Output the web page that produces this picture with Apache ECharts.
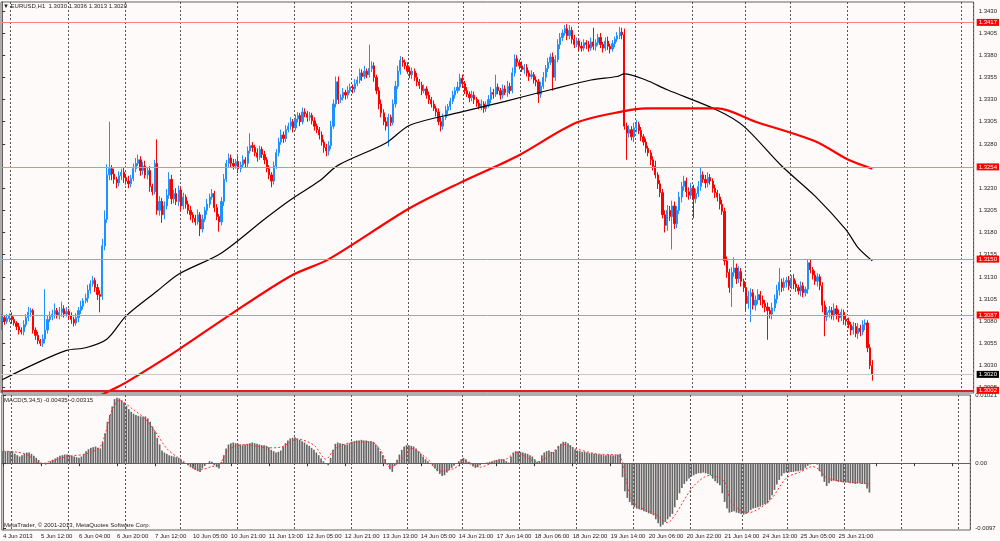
<!DOCTYPE html>
<html>
<head>
<meta charset="utf-8">
<title>EURUSD,H1</title>
<script src="https://cdn.jsdelivr.net/npm/echarts@6/dist/echarts.min.js"></script>
<style>
html, body { margin: 0; padding: 0; background: #fffafa; }
#chart { width: 1000px; height: 541px; }
</style>
</head>
<body>
<div id="chart"></div>
<script>
// prices are kept in pips above 1.3000, macd in units of 0.0001
const BASE = 1.3
const firstOpen = 80

const closePips = [
  84,80,83,86,82,78,74,70,68,76,
  84,90,92,70,64,58,55,60,70,82,
  85,88,92,86,90,94,88,91,86,82,
  78,84,92,97,103,106,115,122,126,118,
  110,108,165,195,245,252,246,240,236,244,
  248,242,238,235,241,252,258,262,250,255,
  245,250,232,226,258,205,215,200,210,222,
  240,218,224,215,228,210,220,212,205,200,
  196,192,200,184,195,205,212,220,224,208,
  198,192,215,240,258,264,258,255,260,252,
  256,262,258,272,278,276,270,265,274,268,
  262,252,245,238,255,270,282,290,286,296,
  300,305,298,308,312,305,316,314,310,312,
  306,300,296,290,282,276,272,278,300,325,
  350,330,332,338,335,340,344,342,348,352,
  360,356,362,358,365,368,355,340,325,315,
  305,300,310,304,325,345,362,374,372,368,
  362,358,362,355,350,346,340,342,335,330,
  325,320,316,305,300,310,318,322,328,335,
  340,344,354,348,340,336,332,335,330,326,
  322,325,320,324,330,338,336,344,340,335,
  342,338,345,340,360,376,372,368,364,366,
  360,356,358,352,350,336,345,355,365,372,
  378,355,375,392,400,405,410,402,408,398,
  392,396,390,388,394,392,388,395,390,394,
  400,392,388,396,390,387,393,398,402,406,
  403,300,292,296,288,298,302,295,288,282,
  275,270,262,255,245,235,225,200,188,205,
  198,210,190,205,220,232,238,226,222,230,
  218,224,232,245,240,236,242,238,230,225,
  220,212,204,148,135,118,135,140,128,136,
  125,118,100,108,112,98,104,110,104,100,
  96,92,88,95,105,115,124,118,124,126,
  120,128,122,118,114,120,112,116,146,138,
  132,125,130,120,98,85,90,92,86,94,
  88,84,90,82,80,76,70,74,66,72,
  68,76,78,50,30,20
]

// visible wick length above / below the body, pips
const wickUp = [
  4,3,5,3,4,3,2,4,3,5,
  4,6,3,2,3,4,2,5,46,4,
  6,5,8,3,6,8,4,5,3,4,
  3,5,4,6,3,5,6,4,5,3,
  4,5,8,10,12,53,4,6,3,5,
  4,5,3,6,4,6,6,6,4,5,
  6,4,5,3,4,27,6,4,5,7,
  8,5,4,6,5,4,5,3,4,5,
  3,4,6,3,5,4,6,4,5,3,
  4,3,5,6,4,5,4,5,3,6,
  4,5,3,5,14,4,3,5,4,3,
  4,3,4,3,5,4,5,6,4,5,
  4,5,3,5,4,3,5,4,3,4,
  3,4,3,3,4,3,4,5,6,5,
  6,6,4,5,3,5,4,3,5,4,
  5,4,6,3,27,5,4,3,4,5,
  4,5,4,3,5,6,6,5,4,3,
  4,5,4,3,5,3,4,5,3,4,
  3,4,3,4,5,4,5,3,4,5,
  4,6,5,4,3,4,3,5,4,3,
  4,5,3,4,5,6,4,14,4,3,
  5,4,6,4,6,5,4,3,5,4,
  4,3,5,3,4,3,5,6,4,5,
  4,5,5,6,5,4,4,5,6,4,
  5,4,3,5,4,3,4,5,16,4,
  4,5,3,4,5,3,4,3,4,6,
  5,7,4,5,4,6,5,3,4,3,
  4,3,3,4,6,3,4,4,5,6,
  5,6,5,5,6,5,6,4,5,6,
  4,5,6,8,4,5,6,4,3,4,
  3,4,5,4,5,4,6,12,5,6,
  4,3,4,6,5,4,5,6,4,5,
  4,5,4,6,5,6,16,4,5,4,
  5,4,5,4,3,5,4,3,4,4,
  3,5,4,3,4,5,6,5,4,6,
  4,5,4,3,5,4,3,5,4,6,
  4,5,4,3,4,6
]
const wickDown = [
  10,4,3,4,5,3,4,5,3,4,
  3,4,5,4,5,4,3,4,5,4,
  3,4,5,3,4,5,4,3,4,5,
  4,3,5,4,4,3,5,4,3,5,
  6,18,4,5,4,6,7,5,6,4,
  5,6,4,5,4,3,4,3,6,5,
  4,5,6,4,3,5,6,9,5,4,
  4,6,5,4,5,6,4,5,4,6,
  5,4,3,8,4,3,5,4,3,5,
  4,11,4,5,3,4,5,4,3,5,
  4,3,5,4,3,5,4,5,3,4,
  5,4,5,7,4,3,4,3,5,4,
  3,4,5,3,4,5,3,4,5,4,
  4,5,4,5,4,6,6,5,4,3,
  4,5,4,3,5,4,3,5,4,3,
  4,5,3,4,3,4,5,4,6,5,
  4,5,23,4,3,4,3,4,5,4,
  3,4,5,4,5,4,5,3,4,5,
  4,3,5,4,6,4,3,5,4,3,
  4,3,4,5,4,3,5,4,5,4,
  3,4,5,4,3,4,5,3,4,5,
  4,3,5,4,3,4,5,4,3,5,
  4,5,3,4,5,10,4,3,5,4,
  3,15,4,3,5,4,3,5,4,5,
  4,3,5,4,3,5,4,3,4,5,
  3,4,5,3,4,5,3,4,3,4,
  5,4,30,5,4,6,5,4,5,4,
  5,4,6,5,4,6,5,4,8,6,
  5,37,6,5,4,6,5,6,5,4,
  22,5,4,5,4,6,5,4,5,6,
  5,6,4,5,6,6,22,5,6,5,
  6,5,8,6,29,5,6,5,6,5,
  6,33,5,6,4,5,6,5,4,6,
  5,4,6,5,4,6,5,4,5,4,
  5,4,6,5,8,22,5,6,4,5,
  6,5,4,6,5,4,6,5,4,6,
  5,4,6,5,4,7
]

// moving averages read at sample bars
const blackMaBars = [0,13,27,35,44,52,65,74,92,110,121,133,141,161,171,191,211,230,247,258,261,270,279,300,311,327,341,354,359,365]
const blackMaPips = [14,31,47,50,60,86,114,133,157,195,217,238,256,281,301,315,328,341,352,356,359,352,341,318,300,255,221,183,163,148]
const redMaBars = [38,44,52,74,96,121,137,170,192,216,241,261,270,300,316,341,355,365]
const redMaPips = [-8,0,11,48,88,131,150,206,236,266,304,317,320,320,305,283,262,252]

const macdHist = [
  18,18,18,18,17,14,12,10,12,14,
  16,16,14,11,8,5,1,-1,-2,0,
  3,5,7,9,11,12,13,13,12,11,
  10,9,8,10,14,18,21,23,24,25,
  23,22,31,45,62,72,85,96,98,97,
  94,91,86,81,77,74,72,71,70,70,
  70,67,62,55,48,38,28,19,16,14,
  12,11,10,9,8,5,2,-1,-3,-6,
  -8,-10,-12,-13,-8,-4,0,3,2,-3,
  -6,-8,2,12,22,28,30,31,30,29,
  28,27,28,29,30,31,30,29,28,27,
  27,26,24,20,18,16,17,19,25,30,
  34,37,38,39,37,35,33,31,28,26,
  23,20,16,12,7,3,-1,-3,8,20,
  29,31,30,29,28,28,30,32,33,34,
  34,35,34,34,33,33,32,28,24,18,
  12,6,-2,-9,-13,-4,5,13,20,25,
  27,27,26,25,22,18,14,10,6,3,
  0,-4,-8,-12,-16,-19,-18,-14,-10,-7,
  -4,-1,3,6,8,6,2,-2,-5,-7,
  -6,-3,-1,0,1,2,3,4,5,6,
  6,5,3,1,10,16,18,18,17,16,
  15,14,12,10,6,2,3,12,16,18,
  19,17,17,20,26,29,32,32,30,27,
  24,21,19,18,17,17,16,15,15,14,
  14,13,13,12,12,13,12,12,12,13,
  14,-21,-42,-52,-58,-63,-66,-68,-69,-70,
  -72,-73,-75,-76,-78,-84,-90,-95,-92,-88,
  -84,-80,-76,-66,-55,-45,-37,-31,-27,-23,
  -20,-18,-16,-15,-15,-14,-15,-16,-18,-23,
  -27,-30,-33,-45,-58,-68,-74,-73,-72,-74,
  -75,-76,-77,-76,-73,-70,-68,-67,-66,-65,
  -63,-61,-60,-55,-48,-40,-32,-25,-19,-15,
  -14,-14,-13,-13,-12,-12,-11,-11,-7,-4,
  -2,-1,-1,-2,-12,-20,-28,-34,-30,-27,
  -26,-27,-28,-28,-29,-29,-29,-30,-30,-31,
  -30,-30,-31,-31,-38,-44
]
const signalBars = [0,5,10,16,20,27,35,41,46,49,55,60,64,69,74,83,88,91,95,102,112,117,124,131,136,140,147,155,159,163,167,172,179,184,190,195,201,208,212,216,225,230,236,241,250,259,261,263,266,275,280,283,291,298,304,307,314,323,330,336,341,344,347,356,365]
const signalVals = [18,17,13,-1,3,10,14,25,80,94,80,66,48,22,8,-10,-5,-3,20,28,23,24,36,27,6,22,31,32,20,-6,2,22,6,-12,-8,3,-6,4,6,16,2,11,28,22,14,12,2,-33,-60,-77,-89,-78,-34,-18,-28,-60,-74,-56,-22,-13,-5,-10,-22,-28,-31]

const timeLabels = ["4 Jun 2013","5 Jun 12:00","6 Jun 04:00","6 Jun 20:00","7 Jun 12:00","10 Jun 05:00","10 Jun 21:00","11 Jun 13:00","12 Jun 05:00","12 Jun 21:00","13 Jun 13:00","14 Jun 05:00","14 Jun 21:00","17 Jun 14:00","18 Jun 06:00","18 Jun 22:00","19 Jun 14:00","20 Jun 06:00","20 Jun 22:00","21 Jun 14:00","24 Jun 13:00","25 Jun 05:00","25 Jun 21:00"]
const labelStep = 16
const daySeparators = [4,28,52,75,99,123,147,171,194,218,242,266,290,312,331,355,379,403]
const totalSlots = 408

const priceTicks = [1.3430,1.3405,1.3380,1.3355,1.3330,1.3305,1.3280,1.3230,1.3205,1.3180,1.3155,1.3130,1.3105,1.3080,1.3055,1.3030,1.3005]
const levels = [1.3417,1.3254,1.3150,1.3087]
const floorLevel = 1.3002
const bid = 1.3020
const macdTicks = [0.01021,0,-0.0097]

const toPrice = p => +(BASE + p / 10000).toFixed(5)

function renderChart() {
  const chart = echarts.init(document.querySelector("#chart"))
  const categories = Array.from({ length: totalSlots }, (_, i) => String(i))
  const sepSet = new Set(daySeparators)

  const candles = closePips.map((c, i) => {
    const o = i === 0 ? firstOpen : closePips[i - 1]
    const hi = Math.max(o, c) + wickUp[i]
    const lo = Math.min(o, c) - wickDown[i]
    return [toPrice(o), toPrice(c), toPrice(lo), toPrice(hi)]
  })
  const blackMa = blackMaBars.map((b, i) => [b, toPrice(blackMaPips[i])])
  const redMa = redMaBars.map((b, i) => [b, toPrice(redMaPips[i])])
  const macd = macdHist.map(v => v / 10000)
  const signal = signalBars.map((b, i) => [b, signalVals[i] / 10000])

  const small = { fontSize: 6, color: "#222", fontFamily: "Liberation Sans" }
  const sepLine = {
    show: true,
    interval: i => sepSet.has(i),
    lineStyle: { color: "#555", type: [2, 2], width: 1 }
  }
  const levelLabel = {
    show: true, position: "end", distance: 3,
    backgroundColor: "#ff0000", color: "#fff",
    fontSize: 6, padding: [1, 2, 0, 2], fontFamily: "Liberation Sans"
  }
  const hline = (v, color, width, bg) => ({
    yAxis: v,
    label: { ...levelLabel, backgroundColor: bg, formatter: v.toFixed(4) },
    lineStyle: { color: color, width: width, type: "solid" }
  })

  chart.setOption({
    backgroundColor: "#fffafa",
    animation: false,
    graphic: [
      { type: "text", left: 3, top: 3, style: { text: "▼ EURUSD,H1  1.3030 1.3036 1.3013 1.3020", fontSize: 6, fill: "#222", fontFamily: "Liberation Sans" } },
      { type: "text", left: 4, top: 397, style: { text: "MACD(5,34,5) -0.00435 -0.00315", fontSize: 6, fill: "#222", fontFamily: "Liberation Sans" } },
      { type: "text", left: 4, top: 522, style: { text: "MetaTrader, © 2001-2013, MetaQuotes Software Corp.", fontSize: 6, fill: "#222", fontFamily: "Liberation Sans" } }
    ],
    grid: [
      { left: 1, right: 23, top: 2, height: 391, show: true, borderColor: "#606060", borderWidth: 1 },
      { left: 1, right: 23, top: 395, height: 135, show: true, borderColor: "#606060", borderWidth: 1 }
    ],
    xAxis: [
      {
        type: "category", gridIndex: 0, data: categories,
        axisLine: { show: false }, axisTick: { show: false }, axisLabel: { show: false },
        splitLine: sepLine
      },
      { type: "value", gridIndex: 0, min: -0.5, max: totalSlots - 0.5, show: false },
      {
        type: "category", gridIndex: 1, data: categories,
        axisLine: { show: true, lineStyle: { color: "#606060" } },
        axisTick: { show: true, interval: labelStep - 1, alignWithLabel: true, length: 3, lineStyle: { color: "#333" } },
        axisLabel: {
          ...small, interval: labelStep - 1, align: "left", margin: 3, hideOverlap: false,
          formatter: (v, i) => (i % labelStep === 0 ? (timeLabels[i / labelStep] || "") : "")
        },
        splitLine: sepLine
      },
      { type: "value", gridIndex: 1, min: -0.5, max: totalSlots - 0.5, show: false }
    ],
    yAxis: [
      {
        type: "value", gridIndex: 0, position: "right", min: 1.2999, max: 1.3440,
        splitLine: { show: false },
        axisLine: { show: true, lineStyle: { color: "#606060" } },
        axisTick: { show: true, length: 3, customValues: priceTicks, lineStyle: { color: "#333" } },
        axisLabel: { ...small, margin: 5, customValues: priceTicks, formatter: v => v.toFixed(4) }
      },
      {
        type: "value", gridIndex: 1, position: "right", min: -0.0100, max: 0.01021,
        splitLine: { show: false },
        axisLine: { show: true, lineStyle: { color: "#606060" } },
        axisTick: { show: true, length: 3, customValues: macdTicks, lineStyle: { color: "#333" } },
        axisLabel: { ...small, margin: 5, customValues: macdTicks, formatter: v => (v === 0 ? "0.00" : String(v)) }
      }
    ],
    series: [
      {
        name: "EURUSD,H1",
        type: "candlestick",
        xAxisIndex: 0, yAxisIndex: 0,
        data: candles,
        barWidth: "70%",
        itemStyle: { color: "#1e90ff", color0: "#ff0000", borderColor: "#1e90ff", borderColor0: "#ff0000", borderWidth: 1 }
      },
      {
        name: "MA black",
        type: "line", xAxisIndex: 1, yAxisIndex: 0,
        data: blackMa, showSymbol: false, smooth: 0.3,
        lineStyle: { color: "#000", width: 1.2 },
        markLine: {
          silent: true, symbol: ["none", "none"], animation: false, precision: 5,
          data: [
            ...levels.map(v => hline(v, "#ff8080", 1, "#ff0000")),
            hline(floorLevel, "#e02020", 2, "#ff0000"),
            hline(bid, "#c8c8c8", 1, "#000000")
          ]
        }
      },
      {
        name: "MA red",
        type: "line", xAxisIndex: 1, yAxisIndex: 0,
        data: redMa, showSymbol: false, smooth: 0.3,
        lineStyle: { color: "#ff0000", width: 2.2 }
      },
      {
        name: "MACD",
        type: "bar", xAxisIndex: 2, yAxisIndex: 1,
        data: macd, barWidth: "70%",
        itemStyle: { color: "#666666" }
      },
      {
        name: "Signal",
        type: "line", xAxisIndex: 3, yAxisIndex: 1,
        data: signal, showSymbol: false, smooth: 0.3,
        lineStyle: { color: "#ff3030", width: 1, type: [2, 2] }
      }
    ]
  })
}

renderChart()
</script>
</body>
</html>
